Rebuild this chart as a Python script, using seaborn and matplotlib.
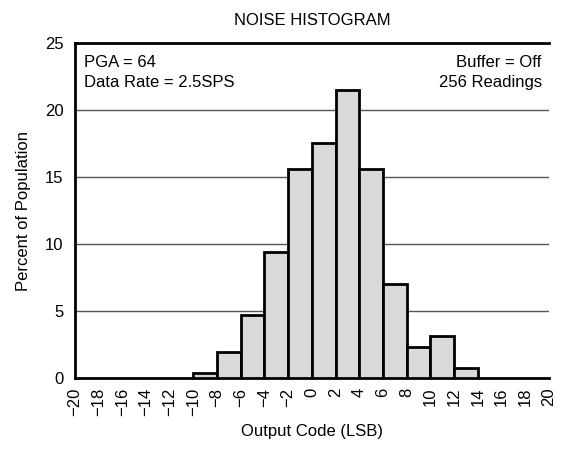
import numpy as np
import matplotlib
matplotlib.use('Agg')
import matplotlib.pyplot as plt
import seaborn as sns

sns.set_style('white')
plt.rcParams['font.family'] = ['Liberation Sans', 'DejaVu Sans']
plt.rcParams.update({'text.color': 'black', 'axes.labelcolor': 'black',
                     'xtick.color': 'black', 'ytick.color': 'black'})

# output code bins (width 2 LSB) and percent of 256 readings
bin_edges = [-10, -8, -6, -4, -2, 0, 2, 4, 6, 8, 10, 12, 14]
bin_centers = [-9, -7, -5, -3, -1, 1, 3, 5, 7, 9, 11, 13]
percent = [0.39, 1.95, 4.69, 9.38, 15.63, 17.58, 21.48, 15.63, 7.03, 2.34, 3.13, 0.78]
x_ticks = list(range(-20, 21, 2))
y_ticks = [0, 5, 10, 15, 20, 25]

fig = plt.figure(figsize=(5.67, 4.49), dpi=100)
ax = fig.add_axes([0.132, 0.158, 0.836, 0.746])

sns.histplot(x=bin_centers, weights=percent, bins=bin_edges, ax=ax,
             color='#d9d9d9', alpha=1, edgecolor='black', linewidth=2, zorder=3)

ax.set_xlim(-20, 20)
ax.set_ylim(0, 25)
ax.set_xticks(x_ticks)
ax.set_xticklabels([str(t).replace('-', '\u2212') for t in x_ticks], rotation=90)
ax.set_yticks(y_ticks)
ax.yaxis.grid(True, color='#555555', linewidth=1)
ax.set_axisbelow(True)

ax.tick_params(axis='x', direction='inout', length=8, width=1, labelsize=12, pad=3)
ax.tick_params(axis='y', length=0, labelsize=12, pad=8)

for side in ['left', 'bottom', 'top']:
    ax.spines[side].set_linewidth(2)
    ax.spines[side].set_color('black')
ax.spines['right'].set_visible(False)

ax.set_xlabel('Output Code (LSB)', fontsize=12, labelpad=6)
ax.set_ylabel('Percent of Population', fontsize=12, labelpad=10)
ax.set_title('NOISE HISTOGRAM', fontsize=12, pad=13)

ax.text(0.02, 0.965, 'PGA = 64\nData Rate = 2.5SPS', transform=ax.transAxes,
        ha='left', va='top', fontsize=12, linespacing=1.45)
ax.text(0.985, 0.965, 'Buffer = Off\n256 Readings', transform=ax.transAxes,
        ha='right', va='top', fontsize=12, linespacing=1.45, multialignment='right')

fig.savefig('out.png', dpi=100)
